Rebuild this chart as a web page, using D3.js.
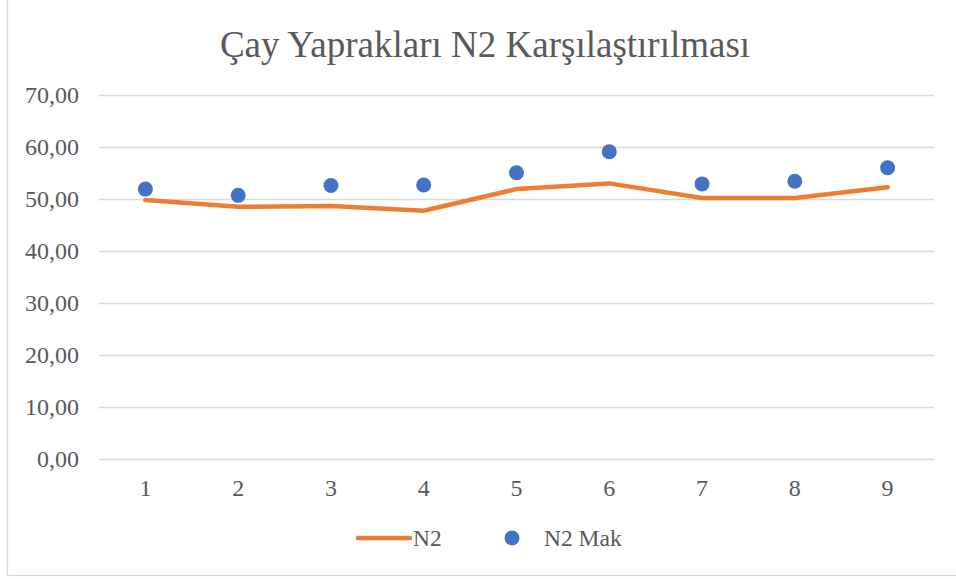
<!DOCTYPE html>
<html>
<head>
<meta charset="utf-8">
<script src="https://cdn.jsdelivr.net/npm/d3@7"></script>
<style>
  body { margin: 0; background: #fff; }
</style>
</head>
<body>
<script>
const categories = ['1', '2', '3', '4', '5', '6', '7', '8', '9'];
const n2 = [49.8, 48.5, 48.65, 47.75, 51.9, 53.0, 50.2, 50.2, 52.25];
const n2Mak = [51.9, 50.7, 52.6, 52.7, 55.05, 59.1, 52.9, 53.4, 56.0];
const yTicks = [0, 10, 20, 30, 40, 50, 60, 70];
const title = 'Çay Yaprakları N2 Karşılaştırılması';

const width = 956;
const height = 579;
const margin = { top: 95, right: 22, bottom: 120, left: 99 };
const innerWidth = width - margin.left - margin.right;
const innerHeight = height - margin.top - margin.bottom;
const font = "'Liberation Serif', 'Times New Roman', serif";
const textColor = '#595959';

const svg = d3.select('body').append('svg')
  .attr('width', width)
  .attr('height', height)
  .style('font-family', font);

// chart frame (top and right edges fall outside the picture)
svg.append('rect')
  .attr('x', 7.5).attr('y', -2)
  .attr('width', width).attr('height', 577.5)
  .attr('fill', '#fff')
  .attr('stroke', '#d9d9d9')
  .attr('stroke-width', 1.3);

const chart = svg.append('g')
  .attr('transform', `translate(${margin.left},${margin.top})`);

const x = d3.scaleBand().domain(categories).range([0, innerWidth]);
const y = d3.scaleLinear().domain([0, 70]).range([innerHeight, 0]);
const cx = d => x(d) + x.bandwidth() / 2;

// gridlines
chart.append('g')
  .selectAll('line')
  .data(yTicks)
  .join('line')
  .attr('x1', 0).attr('x2', innerWidth)
  .attr('y1', d => Math.round(y(d)) + 0.5)
  .attr('y2', d => Math.round(y(d)) + 0.5)
  .attr('stroke', '#d9d9d9')
  .attr('stroke-width', 1.3);

// y labels
chart.append('g')
  .selectAll('text')
  .data(yTicks)
  .join('text')
  .attr('x', -20)
  .attr('y', d => y(d))
  .attr('dy', '0.33em')
  .attr('text-anchor', 'end')
  .attr('font-size', '24px')
  .attr('fill', textColor)
  .text(d => d3.format('.2f')(d).replace('.', ','));

// x labels
chart.append('g')
  .selectAll('text')
  .data(categories)
  .join('text')
  .attr('x', d => cx(d))
  .attr('y', innerHeight + 37)
  .attr('text-anchor', 'middle')
  .attr('font-size', '24px')
  .attr('fill', textColor)
  .text(d => d);

// N2 line
chart.append('path')
  .datum(n2)
  .attr('fill', 'none')
  .attr('stroke', '#ed7d31')
  .attr('stroke-width', 4.5)
  .attr('stroke-linecap', 'round')
  .attr('stroke-linejoin', 'round')
  .attr('d', d3.line()
    .x((d, i) => cx(categories[i]))
    .y(d => y(d)));

// N2 Mak markers
chart.selectAll('circle.mak')
  .data(n2Mak)
  .join('circle')
  .attr('class', 'mak')
  .attr('cx', (d, i) => cx(categories[i]))
  .attr('cy', d => y(d))
  .attr('r', 7.5)
  .attr('fill', '#4472c4');

// title
svg.append('text')
  .attr('x', 485)
  .attr('y', 57)
  .attr('text-anchor', 'middle')
  .attr('font-size', '37px')
  .attr('fill', textColor)
  .text(title);

// legend
const legend = svg.append('g').attr('transform', 'translate(0,538)');
legend.append('line')
  .attr('x1', 358).attr('x2', 410)
  .attr('y1', 0).attr('y2', 0)
  .attr('stroke', '#ed7d31')
  .attr('stroke-width', 4.5)
  .attr('stroke-linecap', 'round');
legend.append('text')
  .attr('x', 413).attr('y', 0).attr('dy', '0.33em')
  .attr('font-size', '23.5px')
  .attr('fill', textColor)
  .text('N2');
legend.append('circle')
  .attr('cx', 512).attr('cy', 0).attr('r', 7.5)
  .attr('fill', '#4472c4');
legend.append('text')
  .attr('x', 544).attr('y', 0).attr('dy', '0.33em')
  .attr('font-size', '23.5px')
  .attr('fill', textColor)
  .text('N2 Mak');
</script>
</body>
</html>
